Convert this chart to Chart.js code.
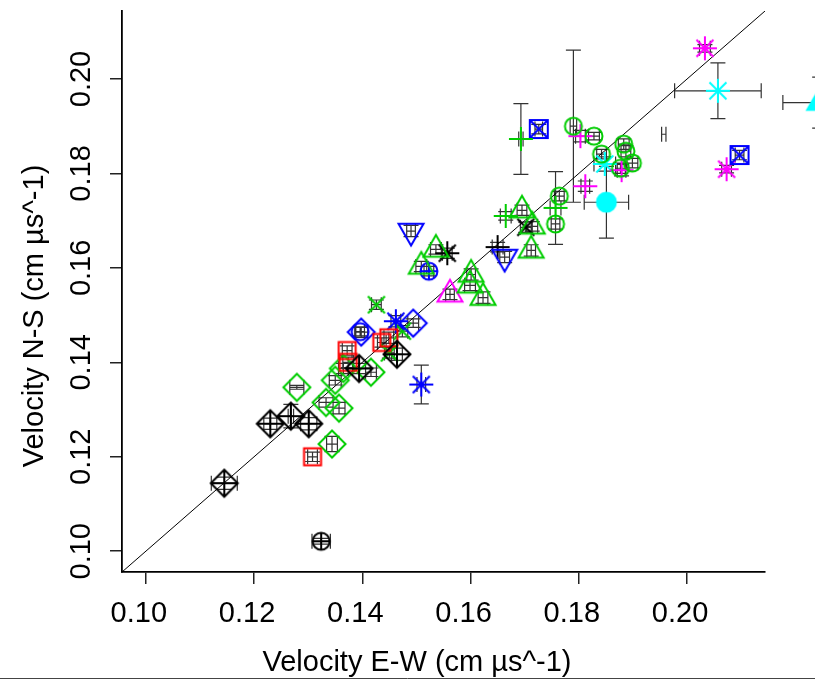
<!DOCTYPE html>
<html>
<head>
<meta charset="utf-8">
<title>Velocity N-S vs E-W</title>
<script src="https://cdn.jsdelivr.net/npm/chart.js@4.4.1/dist/chart.umd.min.js"></script>
<style>
  html, body { margin: 0; padding: 0; background: #fff; }
  #wrap { width: 815px; height: 682px; }
</style>
</head>
<body>
<div id="wrap"><canvas id="plot" width="815" height="682"></canvas></div>
<script>
// axis ticks and limits (same for both axes)
const axisTicks = [0.10, 0.12, 0.14, 0.16, 0.18, 0.20];
const axisLimits = [0.0956, 0.2144];

// measured velocities, cm/us
const ewVelocity = [
  0.1324, 0.1145, 0.1230, 0.1268, 0.1301, 0.1308, 0.1344, 0.1279, 0.1333, 0.1357,
  0.1350, 0.1365, 0.1416, 0.1372, 0.1374, 0.1436, 0.1449, 0.1394, 0.1464, 0.1398,
  0.1396, 0.1462, 0.1494, 0.1426, 0.1474, 0.1450, 0.1509, 0.1490, 0.1536, 0.1557,
  0.1509, 0.1523, 0.1562, 0.1601, 0.1599, 0.1623, 0.1663, 0.1650, 0.1695, 0.1714,
  0.1712, 0.1702, 0.1665, 0.1757, 0.1764, 0.1757, 0.1693, 0.1726, 0.1790, 0.1803,
  0.1828, 0.1842, 0.1848, 0.1812, 0.1851, 0.1883, 0.1887, 0.1899, 0.1877, 0.1879,
  0.1957, 0.2033, 0.2057, 0.2097, 0.2073, 0.2245
];
const nsVelocity = [
  0.1021, 0.1144, 0.1270, 0.1286, 0.1270, 0.1200, 0.1227, 0.1347, 0.1315, 0.1303,
  0.1362, 0.1387, 0.1379, 0.1425, 0.1400, 0.1442, 0.1452, 0.1387, 0.1417, 0.1464,
  0.1465, 0.1487, 0.1483, 0.1522, 0.1466, 0.1420, 0.1353, 0.1678, 0.1639, 0.1631,
  0.1603, 0.1593, 0.1544, 0.1586, 0.1563, 0.1537, 0.1623, 0.1644, 0.1722, 0.1688,
  0.1637, 0.1686, 0.1710, 0.1727, 0.1752, 0.1693, 0.1873, 0.1894, 0.1900, 0.1879,
  0.1879, 0.1841, 0.1820, 0.1773, 0.1739, 0.1862, 0.1847, 0.1822, 0.1811, 0.1807,
  0.1883, 0.2065, 0.1975, 0.1839, 0.1809, 0.1950
];
// standard errors
const ewError = [
  0.0017, 0.0024, 0.0012, 0.0005, 0.0015, 0.0009, 0.0010, 0.0013, 0.0013, 0.0011,
  0.0011, 0.0009, 0.0010, 0.0009, 0.0010, 0.0008, 0.0009, 0.0012, 0.0010, 0.0012,
  0.0008, 0.0009, 0.0010, 0.0009, 0.0010, 0.0009, 0.0008, 0.0008, 0.0010, 0.0009,
  0.0010, 0.0009, 0.0008, 0.0008, 0.0010, 0.0009, 0.0009, 0.0010, 0.0009, 0.0010,
  0.0008, 0.0010, 0.0010, 0.0010, 0.0009, 0.0008, 0.0004, 0.0007, 0.0006, 0.0009,
  0.0010, 0.0009, 0.0020, 0.0008, 0.0041, 0.0010, 0.0009, 0.0010, 0.0009, 0.0008,
  0.0004, 0.0010, 0.0080, 0.0008, 0.0009, 0.0068
];
const nsError = [
  0.0006, 0.0013, 0.0012, 0.0025, 0.0013, 0.0010, 0.0016, 0.0004, 0.0010, 0.0012,
  0.0010, 0.0011, 0.0009, 0.0010, 0.0011, 0.0010, 0.0012, 0.0011, 0.0013, 0.0011,
  0.0009, 0.0012, 0.0009, 0.0010, 0.0012, 0.0011, 0.0041, 0.0012, 0.0010, 0.0011,
  0.0011, 0.0010, 0.0011, 0.0012, 0.0011, 0.0012, 0.0012, 0.0010, 0.0011, 0.0010,
  0.0012, 0.0011, 0.0009, 0.0077, 0.0010, 0.0011, 0.0075, 0.0010, 0.0161, 0.0012,
  0.0008, 0.0010, 0.0015, 0.0011, 0.0076, 0.0011, 0.0012, 0.0010, 0.0011, 0.0012,
  0.0000, 0.0008, 0.0059, 0.0010, 0.0008, 0.0054
];
// sample set of each measurement
const sampleSet = [
  1, 0, 0, 0, 0, 2, 3, 3, 3, 3,
  3, 3, 3, 2, 2, 2, 2, 0, 0, 4,
  5, 6, 4, 7, 7, 7, 6, 8, 9, 10,
  9, 11, 12, 9, 9, 9, 8, 13, 9, 9,
  9, 14, 15, 15, 16, 16, 15, 17, 16, 18,
  16, 16, 19, 18, 20, 16, 16, 16, 16, 18,
  21, 22, 19, 17, 22, 23
];

// colour and plotting symbol per sample set
const setLook = [
  ['#000000', 'diamondPlus'], ['#000000', 'circlePlus'], ['#FF0000', 'square'],
  ['#00CD00', 'diamond'], ['#0000FF', 'diamond'], ['#0000FF', 'circle'],
  ['#0000FF', 'asterisk'], ['#00CD00', 'cross'], ['#0000FF', 'triangleDown'],
  ['#00CD00', 'triangle'], ['#000000', 'asterisk'], ['#0000FF', 'circlePlus'],
  ['#FF00FF', 'triangle'], ['#000000', 'plus'], ['#000000', 'cross'],
  ['#00CD00', 'plus'], ['#00CD00', 'circle'], ['#0000FF', 'squareCross'],
  ['#FF00FF', 'plus'], ['#00FFFF', 'asterisk'], ['#00FFFF', 'dot'],
  [null, 'none'], ['#FF00FF', 'asterisk'], ['#00FFFF', 'triangleFill']
];

const FONT = '"Liberation Sans", Arial, sans-serif';
const CAP = 7.5;

// draw an R-style plotting symbol into a small canvas used as pointStyle
function symbol(shape, colour) {
  const c = document.createElement('canvas');
  c.width = c.height = 40;
  const g = c.getContext('2d');
  g.translate(20, 20);
  g.strokeStyle = colour;
  g.fillStyle = colour;
  g.lineWidth = 2;
  const seg = (a, b, cc, d) => { g.moveTo(a, b); g.lineTo(cc, d); };
  const ring = r => { g.moveTo(r, 0); g.arc(0, 0, r, 0, 2 * Math.PI); };
  const tri = s => { g.moveTo(0, -14.4 * s); g.lineTo(12.5, 7.2 * s); g.lineTo(-12.5, 7.2 * s); g.closePath(); };
  const dia = r => { g.moveTo(0, -r); g.lineTo(r, 0); g.lineTo(0, r); g.lineTo(-r, 0); g.closePath(); };
  g.beginPath();
  switch (shape) {
    case 'circle': ring(8.5); break;
    case 'circlePlus': ring(8.5); seg(-8.5, 0, 8.5, 0); seg(0, -8.5, 0, 8.5); break;
    case 'dot': ring(9.5); g.fill(); break;
    case 'square': g.rect(-8.5, -8.5, 17, 17); break;
    case 'squareCross': g.rect(-9, -9, 18, 18); seg(-9, -9, 9, 9); seg(-9, 9, 9, -9); break;
    case 'diamond': dia(13.5); break;
    case 'diamondPlus': dia(13.5); seg(-13.5, 0, 13.5, 0); seg(0, -13.5, 0, 13.5); break;
    case 'triangle': tri(1); break;
    case 'triangleDown': tri(-1); break;
    case 'triangleFill': tri(1); g.fill(); break;
    case 'plus': seg(-12, 0, 12, 0); seg(0, -12, 0, 12); break;
    case 'cross': seg(-8.5, -8.5, 8.5, 8.5); seg(-8.5, 8.5, 8.5, -8.5); break;
    case 'asterisk':
      seg(-12, 0, 12, 0); seg(0, -12, 0, 12);
      seg(-8.5, -8.5, 8.5, 8.5); seg(-8.5, 8.5, 8.5, -8.5); break;
  }
  g.stroke();
  return c;
}

const pointSets = setLook.map((look, k) => ({
  label: 'set ' + (k + 1),
  data: [],
  errorBars: true,
  pointStyle: look[1] === 'none' ? false : symbol(look[1], look[0]),
  // the last set lies past the x limit; a wide radius keeps it from being culled
  pointRadius: look[1] === 'none' ? 0 : (k === setLook.length - 1 ? 80 : 14),
  clip: false,
  order: 0
}));
ewVelocity.forEach((v, i) => {
  pointSets[sampleSet[i]].data.push({ x: v, y: nsVelocity[i], ex: ewError[i], ey: nsError[i] });
});

// 1:1 reference line
const identity = {
  label: '1:1',
  data: axisLimits.map(v => ({ x: v, y: v })),
  showLine: true,
  borderColor: '#000',
  borderWidth: 1,
  pointRadius: 0,
  order: 1
};

const errorBars = {
  id: 'errorBars',
  beforeDatasetsDraw(chart) {
    const { ctx } = chart;
    const sx = chart.scales.x, sy = chart.scales.y;
    ctx.save();
    ctx.strokeStyle = '#333';
    ctx.lineWidth = 1.2;
    ctx.beginPath();
    chart.data.datasets.forEach(ds => {
      if (!ds.errorBars) return;
      ds.data.forEach(p => {
        const px = sx.getPixelForValue(p.x), py = sy.getPixelForValue(p.y);
        if (p.ex > 0) {
          const a = sx.getPixelForValue(p.x - p.ex), b = sx.getPixelForValue(p.x + p.ex);
          ctx.moveTo(a, py); ctx.lineTo(b, py);
          ctx.moveTo(a, py - CAP); ctx.lineTo(a, py + CAP);
          ctx.moveTo(b, py - CAP); ctx.lineTo(b, py + CAP);
        }
        if (p.ey > 0) {
          const a = sy.getPixelForValue(p.y - p.ey), b = sy.getPixelForValue(p.y + p.ey);
          ctx.moveTo(px, a); ctx.lineTo(px, b);
          ctx.moveTo(px - CAP, a); ctx.lineTo(px + CAP, a);
          ctx.moveTo(px - CAP, b); ctx.lineTo(px + CAP, b);
        }
      });
    });
    ctx.stroke();
    ctx.restore();
  }
};

// rotated y tick labels, axis titles and the rule under the figure
const axisText = {
  id: 'axisText',
  afterDraw(chart) {
    const { ctx } = chart;
    const sy = chart.scales.y;
    ctx.save();
    ctx.fillStyle = '#000';
    ctx.font = '29px ' + FONT;
    ctx.textAlign = 'center';
    ctx.textBaseline = 'alphabetic';
    sy.ticks.forEach(t => {
      ctx.save();
      ctx.translate(90, sy.getPixelForValue(t.value));
      ctx.rotate(-Math.PI / 2);
      ctx.fillText(t.value.toFixed(2), 0, 0);
      ctx.restore();
    });
    ctx.fillText('Velocity E-W (cm µs^-1)', 417, 671);
    ctx.save();
    ctx.translate(43, 316);
    ctx.rotate(-Math.PI / 2);
    ctx.fillText('Velocity N-S (cm µs^-1)', 0, 0);
    ctx.restore();
    ctx.strokeStyle = '#444';
    ctx.lineWidth = 1;
    ctx.beginPath();
    ctx.moveTo(0, 678.5);
    ctx.lineTo(815, 678.5);
    ctx.stroke();
    ctx.restore();
  }
};

const setTicks = s => { s.ticks = axisTicks.map(v => ({ value: v })); };

new Chart(document.getElementById('plot'), {
  type: 'scatter',
  data: { datasets: [...pointSets, identity] },
  options: {
    responsive: false,
    animation: false,
    events: [],
    layout: { autoPadding: false, padding: { top: 11, right: 50, left: 0, bottom: 0 } },
    plugins: { legend: { display: false }, tooltip: { enabled: false } },
    scales: {
      x: {
        type: 'linear',
        min: axisLimits[0], max: axisLimits[1],
        afterBuildTicks: setTicks,
        afterFit: s => { s.height = 110; },
        border: { display: true, color: '#000', width: 1.8 },
        grid: { display: true, drawOnChartArea: false, drawTicks: true, tickLength: 12, color: '#222', lineWidth: 1.5 },
        ticks: {
          color: '#000',
          font: { family: FONT, size: 29 },
          padding: 13,
          labelOffset: -7,
          maxRotation: 0,
          callback: v => v.toFixed(2)
        }
      },
      y: {
        type: 'linear',
        min: axisLimits[0], max: axisLimits[1],
        afterBuildTicks: setTicks,
        afterFit: s => { s.width = 122; },
        border: { display: true, color: '#000', width: 1.8 },
        grid: { display: true, drawOnChartArea: false, drawTicks: true, tickLength: 12, color: '#222', lineWidth: 1.5 },
        ticks: { display: false }
      }
    }
  },
  plugins: [errorBars, axisText]
});
</script>
</body>
</html>
